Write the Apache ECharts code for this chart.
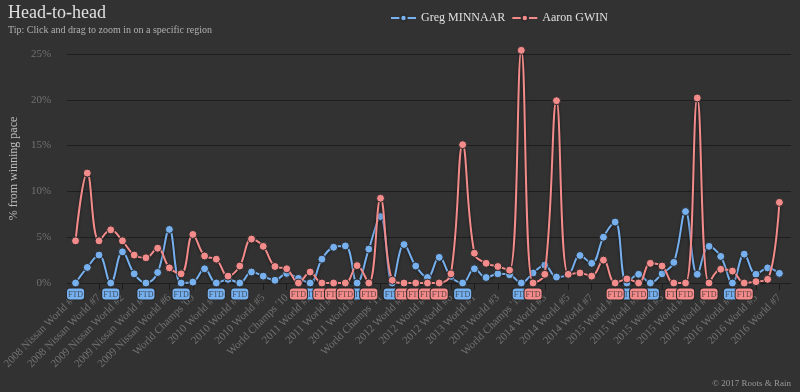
<!DOCTYPE html>
<html><head><meta charset="utf-8">
<script src="https://cdn.jsdelivr.net/npm/echarts@6/dist/echarts.min.js"></script>
<style>html,body{margin:0;padding:0;background:#323232}#c{width:800px;height:392px}</style>
</head><body><div id="c"></div>
<script>
const categories = [
  '2008 Nissan World #4', '2008 Nissan World #5', '2008 Nissan World #7', "World Champs '08",
  '2009 Nissan World #2', '2009 Nissan World #3', '2009 Nissan World #4', '2009 Nissan World #5',
  '2009 Nissan World #6', '2009 Nissan World #7', "World Champs '09", '2009 Nissan World #8',
  '2010 World #1', '2010 World #2', '2010 World #3', '2010 World #4', '2010 World #5', '2010 World #6',
  "World Champs '10",
  '2011 World #1', '2011 World #2', '2011 World #3', '2011 World #4', '2011 World #5', '2011 World #6',
  '2011 World #7', "World Champs '11",
  '2012 World #1', '2012 World #2', '2012 World #3', '2012 World #4', '2012 World #5', '2012 World #6',
  "World Champs '12",
  '2013 World #1', '2013 World #2', '2013 World #3', '2013 World #4', "World Champs '13",
  '2014 World #2', '2014 World #3', '2014 World #4', '2014 World #5', '2014 World #6', '2014 World #7',
  "World Champs '14",
  '2015 World #1', '2015 World #2', '2015 World #3', '2015 World #4', '2015 World #5', '2015 World #6',
  '2015 World #7', "World Champs '15",
  '2016 World #1', '2016 World #2', '2016 World #3', '2016 World #4', '2016 World #5', '2016 World #6',
  '2016 World #7'
];
const minnaar = [
  0, 1.7, 3.05, 0, 3.4, 1.0, 0, 1.15, 5.85, 0,
  0.1, 1.55, 0, 0.4, 0, 1.2, 0.75, 0.3, 1.05, 0.5,
  0, 2.6, 3.9, 4.05, 0, 3.7, 7.25, 0, 4.2, 1.85,
  0.6, 2.8, 0.7, 0, 1.55, 0.6, 1.0, 0.9, 0, 1.1,
  1.95, 0.65, 0.9, 3.0, 2.15, 5.0, 6.65, 0, 0.95, 0,
  1.0, 2.25, 7.8, 0.95, 4.0, 2.9, 0, 3.15, 0.95, 1.65,
  1.05
];
const gwin = [
  4.6, 12.0, 4.6, 5.8, 4.6, 3.05, 2.75, 3.8, 1.65, 1.0,
  5.3, 2.95, 2.6, 0.75, 1.85, 4.8, 4.0, 1.8, 1.55, 0,
  1.2, 0, 0, 0, 1.9, 0, 9.25, 0.3, 0, 0,
  0, 0, 1.0, 15.1, 3.25, 2.15, 1.8, 1.4, 25.4, 0,
  0.95, 19.9, 0.95, 1.1, 0.75, 2.5, 0, 0.45, 0, 2.15,
  1.85, 0, 0, 20.2, 0, 1.5, 1.3, 0, 0.15, 0.4,
  8.8
];

const FONT = '"Liberation Serif", "DejaVu Serif", serif';
const BLUE = '#76b0ee', RED = '#f38b8b';
function toData(arr) { return arr.map(v => ({ value: v, label: { show: v === 0 } })); }
function makeSeries(name, arr, color, z) {
  return {
    name: name, type: 'line', xAxisIndex: 0, yAxisIndex: 0,
    data: toData(arr), smooth: 0.4, symbol: 'circle', symbolSize: 8, showAllSymbol: true,
    clip: false, z: z,
    color: color,
    lineStyle: { width: 2, color: color, shadowColor: 'rgba(0,0,0,0.55)', shadowBlur: 3, shadowOffsetY: 1 },
    itemStyle: { color: color, borderColor: '#2b2b2b', borderWidth: 1 },
    label: {
      position: 'bottom', distance: 1, formatter: 'FTD', backgroundColor: color,
      borderColor: '#262626', borderWidth: 1, borderRadius: 3, padding: [1, 1, 0, 1],
      fontSize: 8, lineHeight: 10, color: 'rgba(35,35,35,0.7)', fontFamily: FONT
    },
    emphasis: { disabled: true }
  };
}

const chart = echarts.init(document.getElementById('c'));
chart.setOption({
  backgroundColor: '#323232',
  animation: false,
  textStyle: { fontFamily: FONT },
  title: [
    { text: 'Head-to-head', left: 8, top: 4, padding: 0,
      textStyle: { fontSize: 18, color: '#e0e0e0', fontWeight: 'normal', fontFamily: FONT } },
    { text: 'Tip: Click and drag to zoom in on a specific region', left: 8, top: 25, padding: 0,
      textStyle: { fontSize: 10, color: '#b0b0b0', fontWeight: 'normal', fontFamily: FONT } }
  ],
  legend: {
    data: ['Greg MINNAAR', 'Aaron GWIN'], left: 390, top: 12, padding: 0,
    itemWidth: 25, itemHeight: 8, itemGap: 6,
    textStyle: { color: '#e0e0e0', fontSize: 12, fontFamily: FONT }
  },
  grid: [
    { left: 62.4, right: 14.75, top: 54, bottom: 109 },
    { left: 57, right: 9, top: 54, bottom: 109 }
  ],
  xAxis: [
    { type: 'category', gridIndex: 0, data: categories, boundaryGap: true,
      axisLine: { show: false },
      axisTick: { show: true, interval: 1, alignWithLabel: true, length: 7, lineStyle: { color: '#1c1c1c' } },
      axisLabel: { interval: 1, rotate: 45, fontSize: 11, color: '#727272', margin: 13, fontFamily: FONT },
      splitLine: { show: false } },
    { type: 'value', gridIndex: 1, show: false }
  ],
  yAxis: [
    { type: 'value', gridIndex: 0, min: 0, max: 25, interval: 5, show: false },
    { type: 'value', gridIndex: 1, min: 0, max: 25, interval: 5,
      axisLine: { show: false }, axisTick: { show: false },
      splitLine: { lineStyle: { color: '#1e1e1e' } },
      axisLabel: { formatter: '{value}%', color: '#727272', fontSize: 11, margin: 16, fontFamily: FONT },
      name: '% from winning pace', nameLocation: 'middle', nameGap: 28,
      nameTextStyle: { color: '#bdbdbd', fontSize: 12, fontFamily: FONT } }
  ],
  series: [
    makeSeries('Greg MINNAAR', minnaar, BLUE, 2),
    makeSeries('Aaron GWIN', gwin, RED, 3)
  ],
  graphic: [
    { type: 'text', right: 9, bottom: 4,
      style: { text: '\u00a9 2017 Roots & Rain', fill: '#999999', font: '9px "Liberation Serif", serif' } }
  ]
});
</script></body></html>
